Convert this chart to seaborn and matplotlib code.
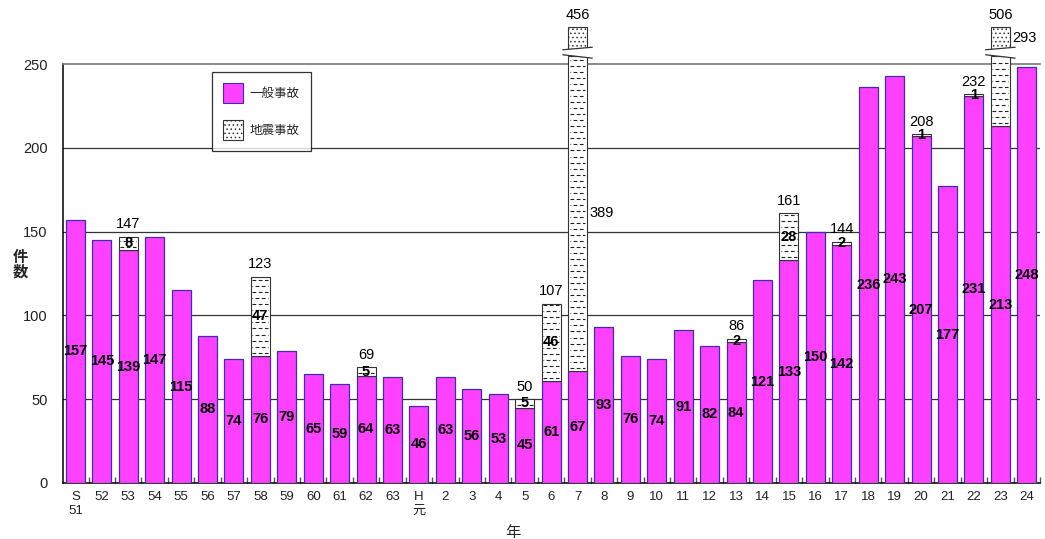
import matplotlib
matplotlib.use("Agg")
import matplotlib.pyplot as plt
import numpy as np
import pandas as pd
import seaborn as sns
from matplotlib.patches import Patch, Polygon

# Fiscal years (Showa 51 .. Heisei 24)
years = ["S\n51", "52", "53", "54", "55", "56", "57", "58", "59", "60", "61", "62", "63",
         "H\n元", "2", "3", "4", "5", "6", "7", "8", "9", "10", "11", "12", "13", "14",
         "15", "16", "17", "18", "19", "20", "21", "22", "23", "24"]

# General accidents
general = [157, 145, 139, 147, 115, 88, 74, 76, 79, 65, 59, 64, 63,
           46, 63, 56, 53, 45, 61, 67, 93, 76, 74, 91, 82, 84, 121,
           133, 150, 142, 236, 243, 207, 177, 231, 213, 248]

# Earthquake-related accidents
quake = [0, 0, 8, 0, 0, 0, 0, 47, 0, 0, 0, 5, 0,
         0, 0, 0, 0, 5, 46, 389, 0, 0, 0, 0, 0, 2, 0,
         28, 0, 2, 0, 0, 1, 0, 1, 293, 0]

sns.set_theme(style="white")
plt.rcParams["font.family"] = ["Liberation Sans", "Noto Sans CJK JP", "DejaVu Sans"]
plt.rcParams["hatch.color"] = "#222222"
plt.rcParams["hatch.linewidth"] = 0.6

MAGENTA = "#FF40FF"
EDGE = "#3A2FB0"
YMAX = 250
BREAK_LOW, BREAK_HIGH, CAP_TOP = 255, 259, 272
BAR_W = 0.72
ROW_STEP = 3.6  # spacing of the dash rows in the earthquake segments

fig = plt.figure(figsize=(10.45, 5.39), dpi=100)
ax = fig.add_axes([63 / 1045, 56 / 539, 977 / 1045, 419 / 539])

df = pd.DataFrame({"year": pd.Categorical(years, categories=years, ordered=True),
                   "general": general})
sns.barplot(data=df, x="year", y="general", color=MAGENTA, saturation=1,
            edgecolor=EDGE, linewidth=0.9, width=BAR_W, ax=ax, zorder=3)

ax.set_ylim(0, YMAX)
ax.set_xlim(-0.47, len(years) - 1 + 0.42)

# horizontal grid lines
for v in range(50, YMAX, 50):
    ax.axhline(v, color="#333333", lw=0.9, zorder=1)


def dashed_fill(i, lo, hi):
    """Staggered short dashes inside an earthquake segment."""
    y = lo + ROW_STEP / 2
    k = 0
    while y < hi - 0.8:
        off = 0 if k % 2 == 0 else 2.8
        ax.plot([i - BAR_W / 2 + 0.06, i + BAR_W / 2 - 0.06], [y, y], color="#222222",
                lw=0.8, linestyle=(off, (3.4, 2.2)), zorder=4, clip_on=False,
                solid_capstyle="butt", dash_capstyle="butt")
        y += ROW_STEP
        k += 1


xs = np.arange(len(years))
for i, (g, q) in enumerate(zip(general, quake)):
    # general value, centred in the bar
    ax.text(i, g / 2, str(g), ha="center", va="center", fontsize=10.5,
            fontweight="bold", color="black", zorder=6)
    if q == 0:
        continue
    total = g + q
    if total <= YMAX:
        ax.bar(i, q, bottom=g, width=BAR_W, color="white", edgecolor="#333333",
               linewidth=0.8, zorder=3)
        dashed_fill(i, g, total)
        ax.text(i, g + q / 2, str(q), ha="center", va="center", fontsize=10.5,
                fontweight="bold", color="black", zorder=6)
        ax.annotate(str(total), (i, total), xytext=(0, 4), textcoords="offset points",
                    ha="center", va="bottom", fontsize=10.5, color="black")
    else:
        # broken bar: lower part, gap, and a short cap on top
        ax.bar(i, BREAK_LOW - g, bottom=g, width=BAR_W, color="white",
               edgecolor="#333333", linewidth=0.8, zorder=3, clip_on=False)
        dashed_fill(i, g, BREAK_LOW)
        ax.bar(i, CAP_TOP - BREAK_HIGH, bottom=BREAK_HIGH, width=BAR_W, color="white",
               edgecolor="#333333", linewidth=0.8, hatch="....", zorder=3, clip_on=False)
        hw = BAR_W / 2 + 0.2
        gap = Polygon([(i - hw, BREAK_HIGH - 0.5), (i + hw, BREAK_HIGH + 1.0),
                       (i + hw, BREAK_LOW - 1.5), (i - hw, BREAK_LOW + 0.5)],
                      closed=True, facecolor="white", edgecolor="none",
                      zorder=5, clip_on=False)
        ax.add_patch(gap)
        ax.plot([i - hw, i + hw], [BREAK_HIGH - 0.5, BREAK_HIGH + 1.0], color="#333333",
                lw=0.9, zorder=5, clip_on=False)
        ax.plot([i - hw, i + hw], [BREAK_LOW + 0.5, BREAK_LOW - 1.5], color="#333333",
                lw=0.9, zorder=5, clip_on=False)
        ax.annotate(str(total), (i, CAP_TOP), xytext=(0, 4), textcoords="offset points",
                    ha="center", va="bottom", fontsize=10.5, color="black",
                    annotation_clip=False)
        label_y = (g + BREAK_LOW) / 2 if q > 300 else (BREAK_HIGH + CAP_TOP) / 2
        ax.annotate(str(q), (i + BAR_W / 2, label_y), xytext=(2, 0),
                    textcoords="offset points", ha="left", va="center",
                    fontsize=10.5, color="black", annotation_clip=False, zorder=6)

# axes styling
for side in ("left", "bottom"):
    ax.spines[side].set_color("black")
    ax.spines[side].set_linewidth(1.1)
ax.spines["top"].set_color("#777777")
ax.spines["top"].set_linewidth(1.2)
ax.spines["right"].set_visible(False)

ax.set_yticks(range(0, YMAX + 1, 50))
ax.tick_params(axis="y", length=0, pad=11, labelsize=10.5, labelcolor="#222222")
ax.tick_params(axis="x", length=0, pad=6, labelsize=9.5, labelcolor="#222222")
ax.set_xticks(xs + 0.5, minor=True)
ax.tick_params(axis="x", which="minor", direction="in", length=4, color="#555555",
               bottom=True)
ax.set_xlabel("")
ax.set_ylabel("")

fig.text(20 / 1045, 1 - 265 / 539, "件\n数", ha="center", va="center",
         fontsize=11, fontweight="bold", linespacing=1.0)
fig.text(513 / 1045, 1 - 533 / 539, "年", ha="center", va="center", fontsize=11)

handles = [Patch(facecolor=MAGENTA, edgecolor=EDGE, linewidth=0.8),
           Patch(facecolor="white", edgecolor="#333333", linewidth=0.8, hatch="....")]
leg = ax.legend(handles, ["一般事故", "地震事故"], loc="upper left",
                bbox_to_anchor=((212 - 63) / 977, (483 - 72) / 419), borderaxespad=0,
                frameon=True, fancybox=False, fontsize=9, handlelength=1.6,
                handleheight=2.1, labelspacing=1.3, borderpad=0.9, handletextpad=0.5)
leg.get_frame().set_edgecolor("black")
leg.get_frame().set_linewidth(0.9)
leg.set_zorder(7)

fig.savefig("out.png", dpi=100)
